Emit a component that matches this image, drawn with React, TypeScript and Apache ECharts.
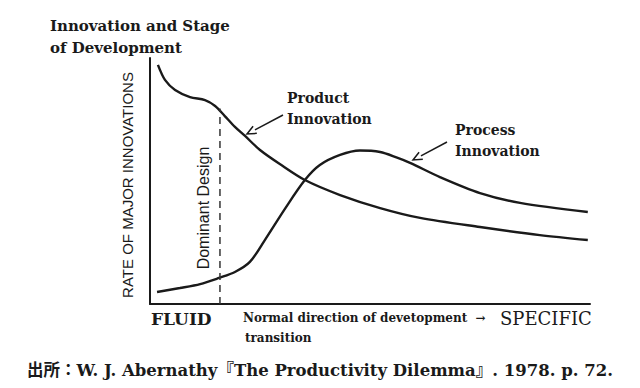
import React, { useEffect, useRef } from "react";
import * as echarts from "echarts";

const productCurve: [number, number][] = [
  [1.8, 97.2], [3.4, 91.1], [5.7, 87.0], [9.1, 84.1], [12.5, 82.9], [14.8, 80.5],
  [17.0, 76.4], [19.3, 72.0], [21.6, 68.3], [25.0, 62.6], [29.5, 56.9], [35.2, 50.4],
  [43.2, 44.3], [52.3, 39.0], [61.4, 35.0], [75.0, 31.3], [88.6, 28.0], [99.5, 26.0],
];
const processCurve: [number, number][] = [
  [1.6, 4.9], [6.8, 6.5], [11.4, 8.1], [15.7, 10.6], [19.3, 13.0], [22.7, 17.1],
  [26.1, 26.0], [30.7, 38.8], [35.2, 50.4], [38.6, 56.5], [43.2, 60.6], [47.7, 62.4],
  [52.3, 61.8], [56.0, 59.6], [59.1, 57.4], [65.9, 51.6], [75.0, 45.1], [84.1, 41.1], [99.5, 37.4],
];
const dominantDesign: [number, number][] = [[15.9, 0], [15.9, 79.5]];

const titleLines = ["Innovation and Stage", "of Development"];
const yAxisTitle = "RATE OF MAJOR INNOVATIONS";
const dominantLabel = "Dominant Design";
const productLabel = ["Product", "Innovation"];
const processLabel = ["Process", "Innovation"];
const xStart = "FLUID";
const xEnd = "SPECIFIC";
const xMiddle = ["Normal direction of devetopment  \u2192", "transition"];
const caption = "出所：W. J. Abernathy『The Productivity Dilemma』. 1978. p. 72.";

const SERIF = "'DejaVu Serif', 'Liberation Serif', serif";
const INK = "#1a1a1a";

export default function App() {
  const ref = useRef<HTMLDivElement>(null);
  useEffect(() => {
    document.body.style.margin = "0";
    const chart = echarts.init(ref.current!, null, { renderer: "svg" });
    const txt = (x: number, y: number, text: string, size: number, weight: string, extra: any = {}) => ({
      type: "text",
      x,
      y,
      style: { text, fontFamily: SERIF, fontSize: size, fontWeight: weight, fill: INK, textVerticalAlign: "middle", ...extra },
    });
    const arrow = (x1: number, y1: number, x2: number, y2: number) => {
      const ang = Math.atan2(y2 - y1, x2 - x1);
      const L = 9, W = 4;
      const bx = x2 - L * Math.cos(ang), by = y2 - L * Math.sin(ang);
      const px = -Math.sin(ang) * W, py = Math.cos(ang) * W;
      return [
        { type: "line", shape: { x1, y1, x2: bx, y2: by }, style: { stroke: INK, lineWidth: 1.5 } },
        {
          type: "polyline",
          shape: { points: [[bx + px, by + py], [x2, y2], [bx - px, by - py]] },
          style: { stroke: INK, lineWidth: 1.5, fill: "none" },
        },
      ];
    };
    chart.setOption({
      animation: false,
      backgroundColor: "#ffffff",
      grid: { left: 150, right: 50, top: 58, bottom: 84 },
      xAxis: {
        type: "value", min: 0, max: 100,
        axisLine: { show: true, onZero: false, lineStyle: { color: INK, width: 2 } },
        axisTick: { show: false }, axisLabel: { show: false }, splitLine: { show: false },
      },
      yAxis: {
        type: "value", min: 0, max: 100,
        axisLine: { show: true, onZero: false, lineStyle: { color: INK, width: 2 } },
        axisTick: { show: false }, axisLabel: { show: false }, splitLine: { show: false },
      },
      series: [
        { type: "line", data: productCurve, smooth: 0.3, showSymbol: false, lineStyle: { color: INK, width: 2.4 } },
        { type: "line", data: processCurve, smooth: 0.3, showSymbol: false, lineStyle: { color: INK, width: 2.4 } },
        { type: "line", data: dominantDesign, showSymbol: false, lineStyle: { color: "#333", width: 1.5, type: [7, 5] } },
      ],
      graphic: [
        txt(50, 26, titleLines[0], 15, "bold"),
        txt(50, 48, titleLines[1], 15, "bold"),
        {
          type: "text", x: 127, y: 185, rotation: Math.PI / 2,
          style: { text: yAxisTitle, fontFamily: "'Liberation Sans', sans-serif", fontSize: 15, fill: INK, align: "center", verticalAlign: "middle" },
        },
        {
          type: "text", x: 203, y: 208, rotation: Math.PI / 2,
          style: { text: dominantLabel, fontFamily: "'Liberation Sans', sans-serif", fontSize: 16, fill: INK, align: "center", verticalAlign: "middle" },
        },
        txt(287, 98, productLabel[0], 14, "bold"),
        txt(287, 119, productLabel[1], 14, "bold"),
        txt(455, 130, processLabel[0], 14, "bold"),
        txt(455, 151, processLabel[1], 14, "bold"),
        ...arrow(283, 115, 247, 134),
        ...arrow(447, 142, 413, 160),
        txt(151, 319, xStart, 17, "bold"),
        txt(243, 318, xMiddle[0], 12, "bold"),
        txt(245, 338, xMiddle[1], 12, "bold"),
        txt(500, 318, xEnd, 18, "normal"),
        txt(27, 370, caption, 16.5, "bold", { fontFamily: "'DejaVu Serif', 'Noto Sans CJK JP', serif" }),
      ],
    });
    return () => chart.dispose();
  }, []);
  return <div ref={ref} style={{ width: 640, height: 388 }} />;
}
